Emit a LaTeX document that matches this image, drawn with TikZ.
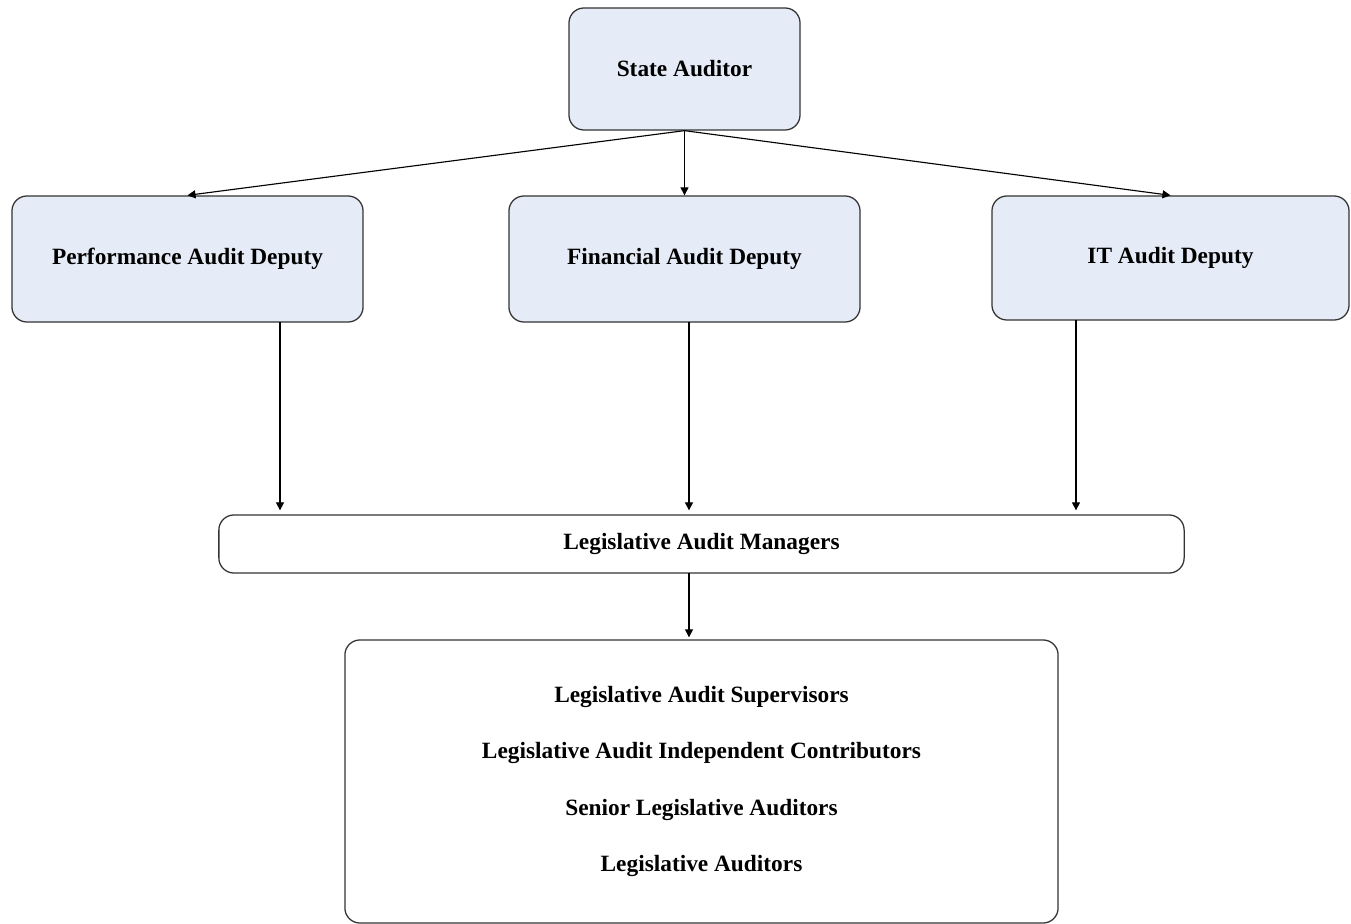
\documentclass[tikz,border=0pt]{standalone}
\usepackage{fontspec}
\setmainfont{Liberation Serif}
\usetikzlibrary{arrows.meta}

\definecolor{boxfill}{HTML}{E6ECF7}
\tikzset{
  unit/.style={draw=black!80, line width=0.9pt, rounded corners=0.375cm,
    fill=boxfill, inner sep=0pt, font=\fontsize{16.6}{20}\selectfont\bfseries},
  plain/.style={unit, fill=white},
  link/.style={line width=0.8pt, -{Triangle[length=0.2cm,width=0.2cm]}}
}

\begin{document}
\begin{tikzpicture}[x=0.025cm, y=-0.025cm]
  \useasboundingbox (0,0) rectangle (1351,924);

  \node[unit, minimum width=5.775cm, minimum height=3.05cm] (sa) at (684.5,69) {State Auditor};
  \node[unit, minimum width=8.775cm, minimum height=3.15cm] (pad) at (187.5,259) {Performance Audit Deputy};
  \node[unit, minimum width=8.775cm, minimum height=3.15cm] (fad) at (684.5,259) {Financial Audit Deputy};
  \node[unit, minimum width=8.925cm, minimum height=3.1cm] (itd) at (1170.5,258) {IT Audit Deputy};
  \node[plain, minimum width=24.125cm, minimum height=1.45cm] (lam) at (701.5,544) {Legislative Audit Managers};
  \node[plain, minimum width=17.825cm, minimum height=7.075cm, align=center,
        font=\fontsize{16.6}{40.2}\selectfont\bfseries] (staff) at (701.5,781.5)
    {Legislative Audit Supervisors\\
     Legislative Audit Independent Contributors\\
     Senior Legislative Auditors\\
     Legislative Auditors};

  % drop points under the deputies
  \coordinate (pdrop) at (280,322);
  \coordinate (fdrop) at (689,322);
  \coordinate (idrop) at (1076,320);
  \coordinate (mdrop) at (689,573);

  \draw[link] (sa.south) -- (pad.north);
  \draw[link] (sa.south) -- (fad.north);
  \draw[link] (sa.south) -- (itd.north);
  \draw[link, shorten >=0.1cm] (pdrop) -- (pdrop |- lam.north);
  \draw[link, shorten >=0.1cm] (fdrop) -- (fdrop |- lam.north);
  \draw[link, shorten >=0.1cm] (idrop) -- (idrop |- lam.north);
  \draw[link, shorten >=0.05cm] (mdrop) -- (mdrop |- staff.north);
\end{tikzpicture}
\end{document}
